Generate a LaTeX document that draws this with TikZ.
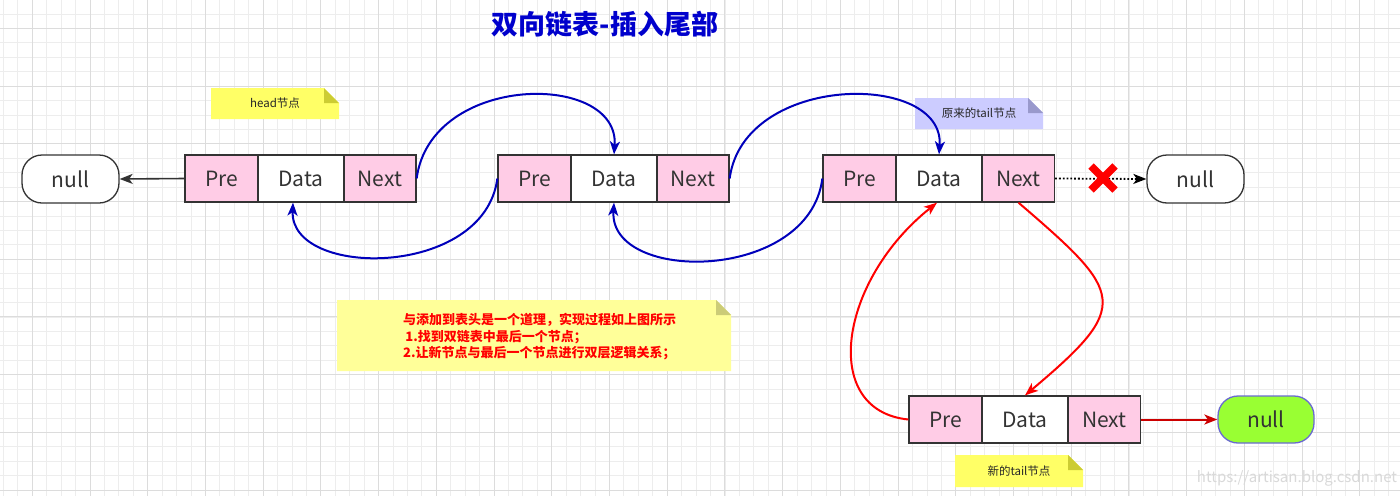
\documentclass[tikz,border=0pt]{standalone}
\usepackage{fontspec}
\setmainfont{Noto Sans CJK SC}
\usetikzlibrary{arrows.meta}
\definecolor{cellpink}{HTML}{FFCCE6}
\definecolor{cellline}{HTML}{333333}
\definecolor{arrblue}{HTML}{0000BB}
\definecolor{titleblue}{HTML}{0000CC}
\definecolor{arrred}{HTML}{FF0000}
\definecolor{darkred}{HTML}{CC0000}
\definecolor{noteyellow}{HTML}{FFFF66}
\definecolor{notefoldy}{HTML}{CCCC33}
\definecolor{notepale}{HTML}{FFFF99}
\definecolor{notefoldp}{HTML}{CCCC77}
\definecolor{notelav}{HTML}{CCCCFF}
\definecolor{notefoldl}{HTML}{9999CC}
\definecolor{nullgreen}{HTML}{99FF33}
\definecolor{nullblue}{HTML}{6A6AD0}
\definecolor{gridminor}{HTML}{EDEDED}
\definecolor{gridmajor}{HTML}{DCDCDC}
\begin{document}
\begin{tikzpicture}[x=1pt,y=-1pt,
  cell/.style={draw=cellline, line width=1.3pt, minimum height=47pt, inner sep=0pt,
    font=\fontsize{21}{25}\selectfont, text=cellline},
  precell/.style={cell, fill=cellpink, minimum width=73pt},
  datacell/.style={cell, fill=white, minimum width=86pt},
  nextcell/.style={cell, fill=cellpink, minimum width=72pt},
  nullbox/.style={draw=cellline, line width=1.3pt, fill=white, rounded corners=20pt,
    minimum width=97pt, minimum height=48pt, inner sep=0pt,
    font=\fontsize{21}{25}\selectfont, text=cellline},
  tipstyle/.style={-{Stealth[length=13pt,width=10pt,inset=3.5pt]}},
  bluearr/.style={draw=arrblue, line width=2pt, tipstyle},
  redarr/.style={draw=arrred, line width=2pt, tipstyle},
  notetext/.style={font=\fontsize{11.5}{14}\selectfont, text=black!85},
]
\useasboundingbox (0,0) rectangle (1400,496);
\fill[white] (0,0) rectangle (1400,496);
% grid
\foreach \i in {0,...,96} {\draw[gridminor, line width=0.8pt] ({3.4+\i*14.43},0) -- ({3.4+\i*14.43},496);}
\foreach \j in {0,...,34} {\draw[gridminor, line width=0.8pt] (0,{13.9+\j*14.43}) -- (1400,{13.9+\j*14.43});}
\foreach \i in {0,...,24} {\draw[gridmajor, line width=1pt] ({32.3+\i*57.72},0) -- ({32.3+\i*57.72},496);}
\foreach \j in {0,...,8} {\draw[gridmajor, line width=1pt] (0,{28.3+\j*57.72}) -- (1400,{28.3+\j*57.72});}

% title
\node[font=\fontsize{27}{30}\selectfont\bfseries, text=titleblue] (title) at (605,24) {双向链表-插入尾部};

% notes
\fill[noteyellow] (211,88) -- (324,88) -- (339,103) -- (339,119) -- (211,119) -- cycle;
\fill[notefoldy] (324,88) -- (324,103) -- (339,103) -- cycle;
\node[notetext] (headnote) at (275,103.5) {head节点};

\fill[notelav] (915,98) -- (1028,98) -- (1043,113) -- (1043,129) -- (915,129) -- cycle;
\fill[notefoldl] (1028,98) -- (1028,113) -- (1043,113) -- cycle;
\node[notetext] (oldtail) at (979,113.5) {原来的tail节点};

\fill[noteyellow] (955,455) -- (1068,455) -- (1083,470) -- (1083,487) -- (955,487) -- cycle;
\fill[notefoldy] (1068,455) -- (1068,470) -- (1083,470) -- cycle;
\node[notetext] (newtail) at (1019,471) {新的tail节点};

\fill[notepale] (337,300) -- (716,300) -- (731,315) -- (731,371) -- (337,371) -- cycle;
\fill[notefoldp] (716,300) -- (716,315) -- (731,315) -- cycle;
\node[anchor=west, align=left, text=arrred, font=\fontsize{13}{16.5}\selectfont\bfseries, inner sep=0pt] (explain) at (403,337)
  {与添加到表头是一个道理，实现过程如上图所示\\
  \,1.找到双链表中最后一个节点；\\
  2.让新节点与最后一个节点进行双层逻辑关系；};

% nodes row 1
\node[nullbox] (null1) at (70.5,179) {null};
\node[precell] (p1) at (221.5,178.5) {Pre};
\node[datacell] (d1) at (301,178.5) {Data};
\node[nextcell] (n1) at (380,178.5) {Next};

\node[precell] (p2) at (534.5,178.5) {Pre};
\node[datacell] (d2) at (614,178.5) {Data};
\node[nextcell] (n2) at (693,178.5) {Next};

\node[precell] (p3) at (859.5,178.5) {Pre};
\node[datacell] (d3) at (939,178.5) {Data};
\node[nextcell] (n3) at (1018.5,178.5) {Next};

\node[nullbox] (null2) at (1195.5,179) {null};

% new node
\node[precell] (p4) at (945.5,419.5) {Pre};
\node[datacell] (d4) at (1025,419.5) {Data};
\node[nextcell] (n4) at (1104.5,419.5) {Next};
\node[nullbox, fill=nullgreen, draw=nullblue, minimum width=96pt, minimum height=47pt] (null3) at (1266,419.5) {null};

% connectors
\draw[draw=cellline, line width=1.6pt, tipstyle] (p1.west) -- (null1.east);

\draw[bluearr] (n1.east) .. controls +(14,-106) and +(6,-83) .. (d2.north);
\draw[bluearr] (p2.west) .. controls +(-13,100) and +(-3,76) .. ([xshift=-8pt]d1.south);
\draw[bluearr] (n2.east) .. controls +(14,-106) and +(6,-83) .. (d3.north);
\draw[bluearr] (p3.west) .. controls +(-13,104) and +(-5,81) .. (d2.south);

\draw[draw=black, line width=1.8pt, dotted, tipstyle] (n3.east) -- (null2.west);
\coordinate (xmark) at (1103,178);
\draw[arrred, line width=7.5pt] ([shift={(-12,-12)}]xmark) -- ([shift={(12,12)}]xmark);
\draw[arrred, line width=7.5pt] ([shift={(12,-12)}]xmark) -- ([shift={(-12,12)}]xmark);

\draw[redarr] (p4.west) .. controls +(-89,-9) and +(-98,78) .. ([xshift=-2pt]d3.south);
\draw[redarr] (n3.south) .. controls +(106,91) and +(107,-90) .. (d4.north);
\draw[draw=darkred, line width=2pt, tipstyle] (n4.east) -- (null3.west);

% watermark
\node[text=black!15, font=\fontsize{15}{17}\selectfont] (wm) at (1297,478) {https://artisan.blog.csdn.net};
\end{tikzpicture}
\end{document}
